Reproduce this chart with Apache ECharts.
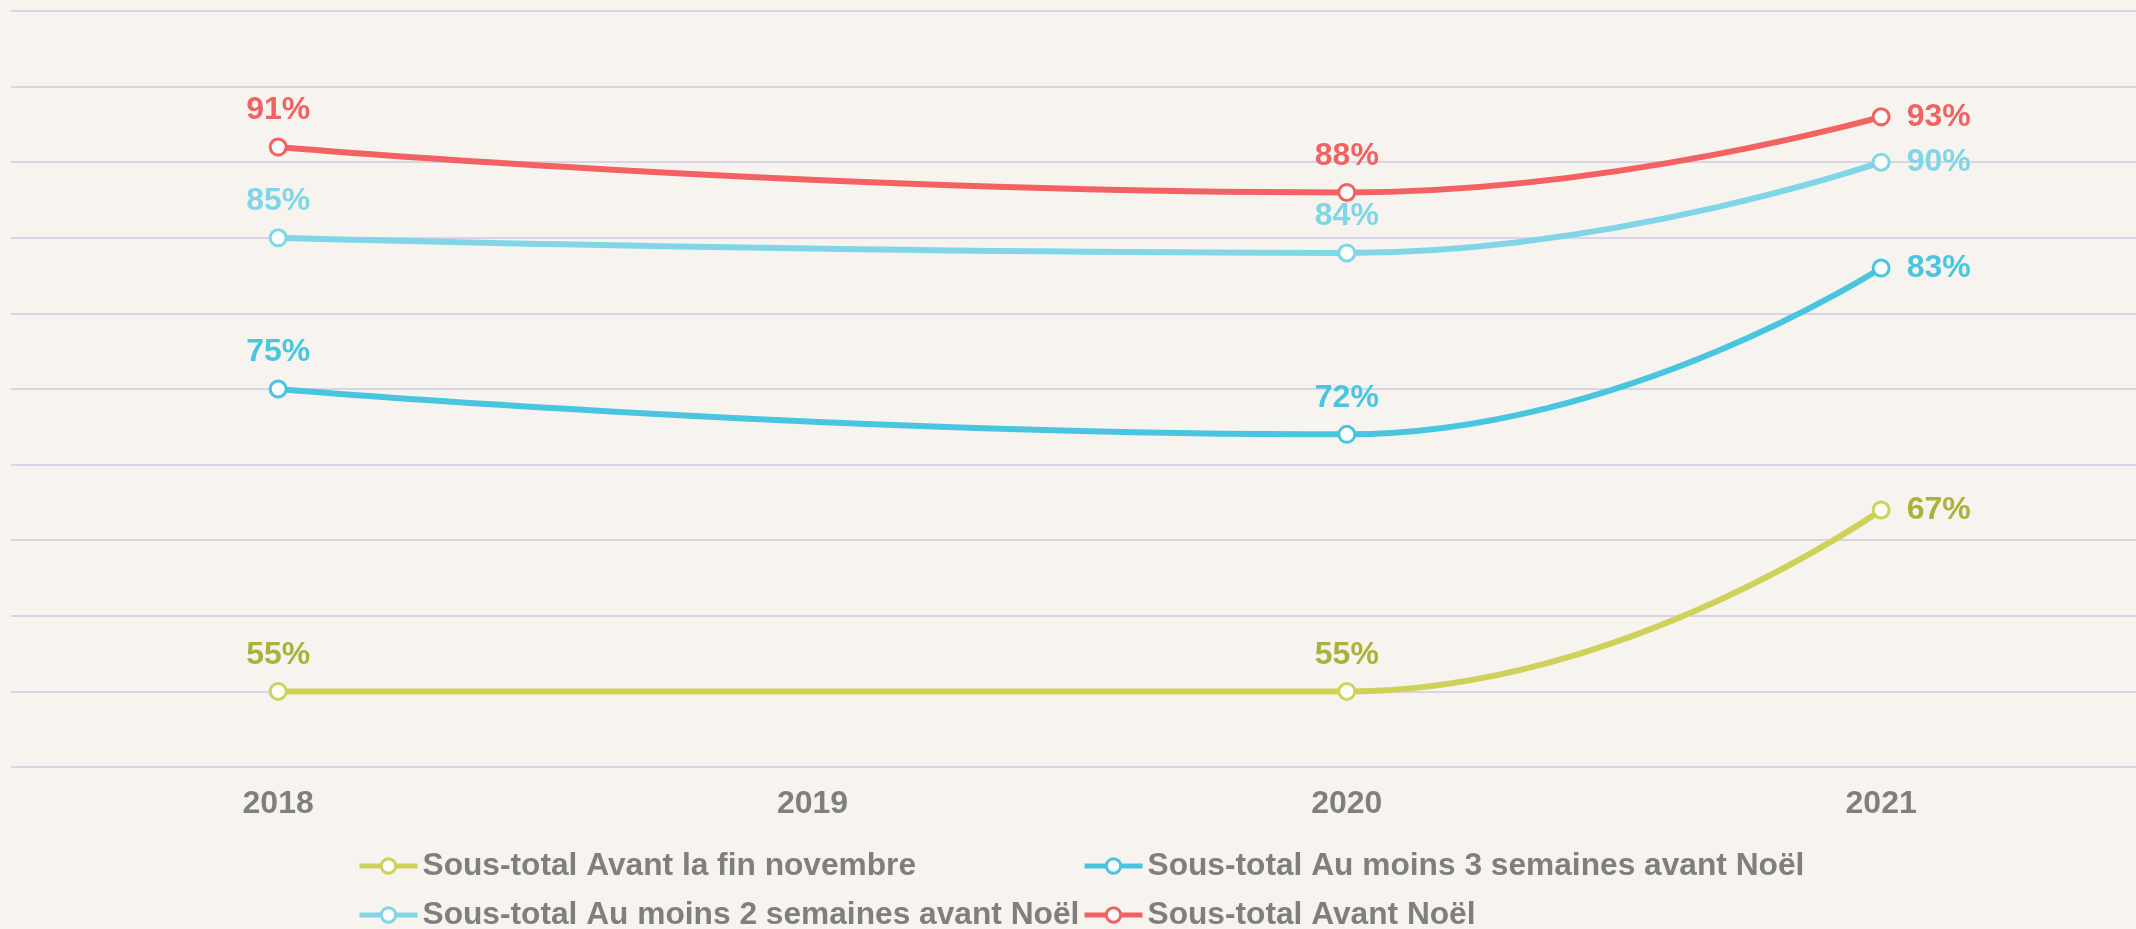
<!DOCTYPE html>
<html>
<head>
<meta charset="utf-8">
<script src="https://cdn.jsdelivr.net/npm/echarts@6/dist/echarts.min.js"></script>
<style>
html,body{margin:0;padding:0;background:#f7f4ef;}
#chart{width:2136px;height:929px;}
</style>
</head>
<body>
<div id="chart"></div>
<script>
const categories = ['2018', '2019', '2020', '2021'];
const seriesNames = [
  'Sous-total Avant la fin novembre',
  'Sous-total Au moins 3 semaines avant Noël',
  'Sous-total Au moins 2 semaines avant Noël',
  'Sous-total Avant Noël'
];
const avantFinNovembre = [55, null, 55, 67];
const auMoins3Semaines = [75, null, 72, 83];
const auMoins2Semaines = [85, null, 84, 90];
const avantNoel = [91, null, 88, 93];

const lineColors = ['#cfd25a', '#4ac5df', '#80d6e7', '#f26262'];
const labelColors = ['#abb23b', '#4ac5df', '#80d6e7', '#f26262'];
const allValues = [avantFinNovembre, auMoins3Semaines, auMoins2Semaines, avantNoel];

const FONT = '"Liberation Sans", Arial, sans-serif';
const years = categories.map(Number);

const chart = echarts.init(document.getElementById('chart'));

const series = allValues.map((vals, s) => ({
  name: seriesNames[s],
  type: 'line',
  smooth: 0.5,
  connectNulls: true,
  symbol: 'circle',
  symbolSize: 16,
  z: 2 + s,
  itemStyle: { color: '#ffffff', borderColor: lineColors[s], borderWidth: 3 },
  lineStyle: { color: lineColors[s], width: 6 },
  label: {
    show: true,
    formatter: (p) => p.value[1] + '%',
    color: labelColors[s],
    fontFamily: FONT,
    fontWeight: 'bold',
    fontSize: 32
  },
  emphasis: { disabled: true },
  data: vals.map((v, i) => ({
    value: [years[i], v],
    label: i === vals.length - 1
      ? { position: 'right', distance: 16 }
      : { position: 'top', distance: 11 }
  }))
}));

// legend slots: [series index, left, top]
const legendSlots = [[0, 352, 845], [1, 1077, 845], [2, 352, 894], [3, 1077, 894]];
const legends = legendSlots.map(([s, left, top]) => ({
  left: left,
  top: top,
  orient: 'horizontal',
  itemWidth: 58,
  itemHeight: 18,
  selectedMode: false,
  lineStyle: { width: 5 },
  itemStyle: { color: '#ffffff', borderColor: lineColors[s], borderWidth: 3 },
  textStyle: { color: '#7f7f7f', fontFamily: FONT, fontWeight: 'bold', fontSize: 31.7 },
  data: [seriesNames[s]]
}));

chart.setOption({
  backgroundColor: '#f7f4ef',
  animation: false,
  grid: { left: 11, top: 11, right: 0, height: 756, containLabel: false },
  legend: legends,
  xAxis: {
    type: 'value',
    min: 2017.5,
    max: 2021.477,
    splitLine: { show: false },
    axisLine: { show: false },
    axisTick: { show: false },
    axisLabel: {
      customValues: years,
      formatter: (v) => String(v),
      color: '#7f7f7f',
      fontFamily: FONT,
      fontWeight: 'bold',
      fontSize: 32,
      margin: 21
    }
  },
  yAxis: {
    type: 'value',
    min: 50,
    max: 100,
    interval: 5,
    axisLabel: { show: false },
    axisLine: { show: false },
    axisTick: { show: false },
    splitLine: { lineStyle: { color: '#d8d3e6', width: 2 } }
  },
  series: series
});
</script>
</body>
</html>
